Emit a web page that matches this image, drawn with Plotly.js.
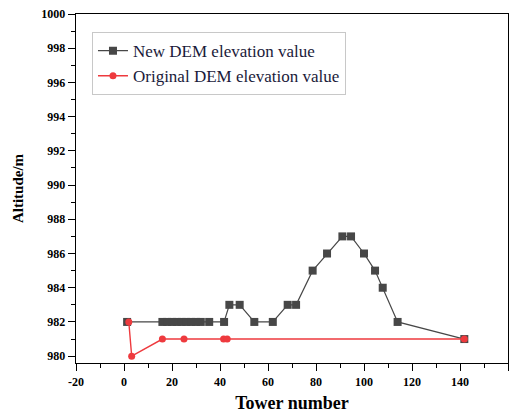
<!DOCTYPE html>
<html><head><meta charset="utf-8">
<script src="https://cdn.plot.ly/plotly-3.0.1.min.js"></script>
<style>html,body{margin:0;padding:0;background:#fff;}</style>
</head><body>
<div id="chart" style="width:515px;height:418px;"></div>
<script>
const newX = [1.3, 16, 18, 20, 22, 24, 26, 28, 30, 32, 35.5, 41.7, 43.9, 48.2, 54.3, 62, 68.2, 71.7, 78.6, 84.6, 91, 94.6, 100, 104.6, 107.8, 114, 141.8];
const newY = [982, 982, 982, 982, 982, 982, 982, 982, 982, 982, 982, 982, 983, 983, 982, 982, 983, 983, 985, 986, 987, 987, 986, 985, 984, 982, 981];
const origX = [2, 3.2, 16, 25, 41.5, 43, 141.8];
const origY = [982, 980, 981, 981, 981, 981, 981];
const seriesNames = ["New DEM elevation value", "Original DEM elevation value"];
const xTicks = [-20, 0, 20, 40, 60, 80, 100, 120, 140, 160];
const yTicks = [980, 982, 984, 986, 988, 990, 992, 994, 996, 998, 1000];

const serif = "Liberation Serif, Times New Roman, serif";
const data = [
  {x: newX, y: newY, name: seriesNames[0], mode: "lines+markers", type: "scatter",
   line: {color: "#474747", width: 1.2}, marker: {symbol: "square", size: 8, color: "#474747"}},
  {x: origX, y: origY, name: seriesNames[1], mode: "lines+markers", type: "scatter",
   line: {color: "#ee3a3e", width: 1.4}, marker: {symbol: "circle", size: 7, color: "#ee3a3e"}}
];
const axisCommon = {
  showgrid: false, zeroline: false, showline: true, linecolor: "#000", linewidth: 1.3,
  mirror: true, ticks: "outside", ticklen: 7, tickwidth: 1, tickcolor: "#000",
  tickfont: {family: serif, size: 12, color: "#000", weight: "bold"}
};
const layout = {
  width: 515, height: 418,
  margin: {l: 76, r: 7, t: 14, b: 55},
  paper_bgcolor: "#fff", plot_bgcolor: "#fff",
  showlegend: true,
  legend: {x: 0.037, y: 0.948, xanchor: "left", yanchor: "top",
    bgcolor: "#fff", bordercolor: "#c8c8c8", borderwidth: 1,
    font: {family: serif, size: 17, color: "#1a1a3a"}, tracegroupgap: 0},
  xaxis: Object.assign({}, axisCommon, {
    range: [-20, 160], tickvals: xTicks, ticktext: xTicks.map(String),
    minor: {dtick: 10, ticks: "outside", ticklen: 4, tickcolor: "#000"},
    title: {text: "Tower number", font: {family: serif, size: 18, color: "#000", weight: "bold"}, standoff: 8}
  }),
  yaxis: Object.assign({}, axisCommon, {
    range: [979.6, 1000], tickvals: yTicks, ticktext: yTicks.map(String),
    minor: {dtick: 1, ticks: "outside", ticklen: 4, tickcolor: "#000"},
    title: {text: "Altitude/m", font: {family: serif, size: 15, color: "#000", weight: "bold"}, standoff: 14}
  })
};
Plotly.newPlot("chart", data, layout, {displayModeBar: false, staticPlot: true});
</script>
</body></html>
